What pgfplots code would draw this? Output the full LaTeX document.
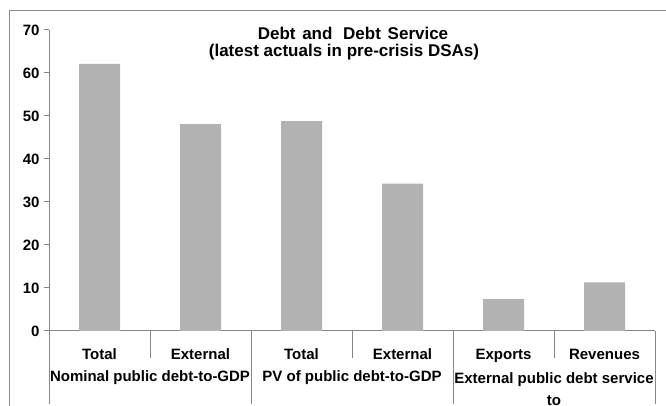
\documentclass[border=0pt]{standalone}
\usepackage{fontspec}
\setmainfont{Liberation Sans}
\usepackage{pgfplots}
\pgfplotsset{compat=1.18}
\definecolor{bargray}{HTML}{B2B2B2}
\definecolor{axgray}{HTML}{868686}
\definecolor{framegray}{HTML}{8C8C8C}
\newcommand{\lbl}{\fontsize{15}{17}\selectfont\bfseries}
\begin{document}
\begin{tikzpicture}
\path[use as bounding box] (0pt,0pt) rectangle (666pt,406pt);
\draw[framegray, line width=1.5pt] (9.5pt,0pt) -- (9.5pt,395.5pt) -- (666pt,395.5pt);
\node[anchor=base, inner sep=0pt, font=\fontsize{17}{17}\selectfont\bfseries] at (353pt,366.5pt) {Debt\hspace{2pt} and\hspace{6pt} Debt\hspace{2pt} Service};
\node[anchor=base, inner sep=0pt, font=\fontsize{17}{17}\selectfont\bfseries] at (344pt,349.7pt) {(latest actuals in pre-crisis DSAs)};
\begin{axis}[
  at={(49pt,376pt)}, anchor=north west,
  scale only axis, width=606pt, height=301pt,
  xmin=-0.5, xmax=5.5, ymin=0, ymax=70,
  axis x line*=bottom, axis y line*=left,
  axis line style={-, axgray, line width=1pt},
  ytick={0,10,...,70},
  y tick style={axgray, line width=1pt},
  tick align=outside, major tick length=5pt,
  xtick=data,
  xticklabels={Total,External,Total,External,Exports,Revenues},
  x tick style={draw=none},
  xticklabel style={anchor=base, yshift=-24pt},
  yticklabel style={xshift=-1pt},
  ticklabel style={font=\lbl},
  /pgf/number format/assume math mode=true,
  clip=false,
]
\addplot[ybar, bar width=41pt, fill=bargray, draw=none]
  coordinates {(0,62.1) (1,48.1) (2,48.8) (3,34.3) (4,7.4) (5,11.3)};
\pgfplotsinvokeforeach{0.5,2.5,4.5}{
  \draw[axgray, line width=1pt] (axis cs:#1,0) -- ([yshift=-27pt]axis cs:#1,0);
}
\pgfplotsinvokeforeach{-0.5,1.5,3.5,5.5}{
  \draw[axgray, line width=1pt] (axis cs:#1,0) -- ([yshift=-73pt]axis cs:#1,0);
}
\node[anchor=base, font=\lbl] at ([yshift=-51pt]axis cs:0.5,0) {Nominal public debt-to-GDP};
\node[anchor=base, font=\lbl] at ([yshift=-51pt]axis cs:2.5,0) {PV of public debt-to-GDP};
\node[anchor=base, font=\lbl] at ([yshift=-53pt]axis cs:4.5,0) {External public debt service};
\node[anchor=base, font=\lbl] at ([yshift=-75pt]axis cs:4.5,0) {to};
\end{axis}
\end{tikzpicture}
\end{document}
